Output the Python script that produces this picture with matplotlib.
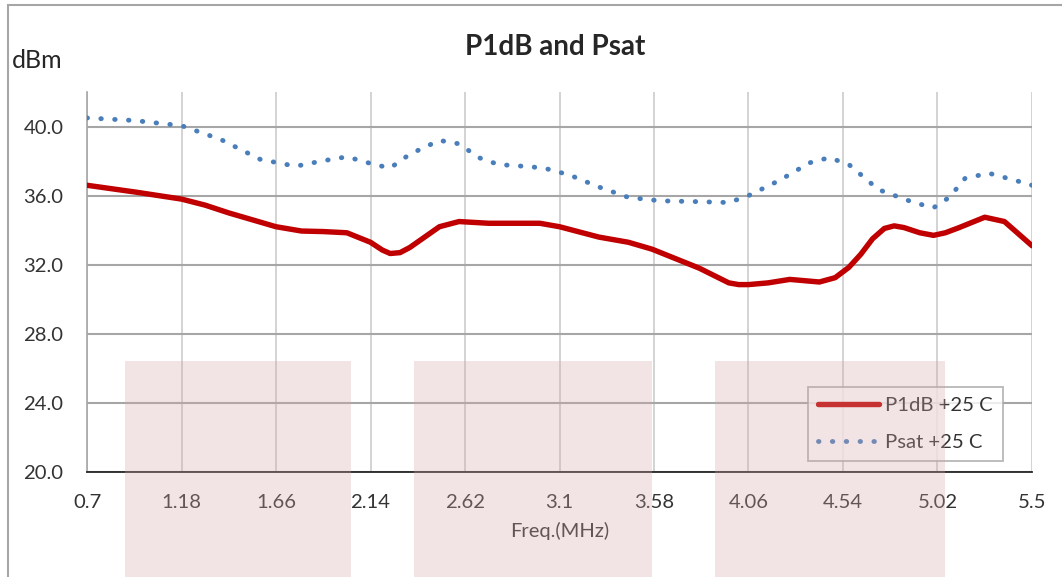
import numpy as np
import matplotlib.pyplot as plt
from matplotlib.patches import Rectangle

plt.rcParams['font.family'] = ['Lato', 'DejaVu Sans']

p1db_freq = [0.70, 0.95, 1.18, 1.30, 1.42, 1.54, 1.66, 1.79, 1.90, 2.02,
             2.14, 2.20, 2.24, 2.29, 2.34, 2.39, 2.49, 2.59, 2.74, 3.00,
             3.10, 3.30, 3.45, 3.57, 3.81, 3.96, 4.01, 4.06, 4.16, 4.27,
             4.42, 4.50, 4.57, 4.63, 4.69, 4.75, 4.80, 4.85, 4.93, 5.00,
             5.06, 5.13, 5.26, 5.36, 5.45, 5.50]
p1db_val = [36.6, 36.2, 35.8, 35.45, 35.0, 34.6, 34.2, 33.95, 33.92, 33.85,
            33.3, 32.85, 32.65, 32.7, 33.0, 33.4, 34.2, 34.5, 34.4, 34.4,
            34.2, 33.6, 33.3, 32.9, 31.8, 30.95, 30.85, 30.85, 30.95, 31.15,
            31.0, 31.25, 31.85, 32.6, 33.5, 34.1, 34.25, 34.15, 33.85, 33.7,
            33.85, 34.15, 34.75, 34.5, 33.6, 33.1]

psat_freq = [0.70, 0.94, 1.18, 1.38, 1.58, 1.76, 1.89, 2.02, 2.16, 2.24,
             2.34, 2.49, 2.59, 2.69, 2.79, 2.92, 3.02, 3.15, 3.30, 3.45,
             3.61, 3.81, 3.96, 4.06, 4.22, 4.37, 4.47, 4.57, 4.72, 4.90,
             5.00, 5.08, 5.16, 5.28, 5.41, 5.50]
psat_val = [40.5, 40.35, 40.05, 39.25, 38.1, 37.7, 38.0, 38.25, 37.8, 37.6,
            38.4, 39.2, 39.0, 38.2, 37.8, 37.7, 37.6, 37.2, 36.5, 35.9,
            35.7, 35.65, 35.6, 36.0, 36.9, 37.9, 38.2, 37.8, 36.35, 35.6,
            35.3, 35.9, 37.0, 37.3, 36.9, 36.6]

x_ticks = [0.7, 1.18, 1.66, 2.14, 2.62, 3.1, 3.58, 4.06, 4.54, 5.02, 5.5]
x_labels = ['0.7', '1.18', '1.66', '2.14', '2.62', '3.1', '3.58', '4.06', '4.54', '5.02', '5.5']
y_ticks = [20, 24, 28, 32, 36, 40]

W, H = 1062, 577
fig = plt.figure(figsize=(W / 100, H / 100), dpi=100)
ax = fig.add_axes([87 / W, 1 - 472 / H, 945 / W, 380 / H])

ax.plot(p1db_freq, p1db_val, color='#c00000', lw=3.9, solid_capstyle='round',
        solid_joinstyle='round', label='P1dB +25 C', zorder=3)
ax.plot(psat_freq, psat_val, color='#4a7ebb', lw=3.5, linestyle=(0, (0.1, 2.75)),
        dash_capstyle='round', label='Psat +25 C', zorder=3)

ax.set_xlim(0.7, 5.5)
ax.set_ylim(20, 42)
ax.set_xticks(x_ticks)
ax.set_xticklabels(x_labels)
ax.set_yticks(y_ticks)
ax.set_yticklabels([f'{v:.1f}' for v in y_ticks])
ax.tick_params(length=0, labelsize=14.6, labelcolor='#333333')
ax.tick_params(axis='x', pad=16)
ax.tick_params(axis='y', pad=17)

ax.xaxis.grid(True, color='#cccccc', lw=1.2)
ax.yaxis.grid(True, color='#a6a6a6', lw=1.5)
ax.set_axisbelow(True)
for s in ['top', 'right']:
    ax.spines[s].set_visible(False)
ax.spines['left'].set_color('#a6a6a6')
ax.spines['left'].set_linewidth(1.2)
ax.spines['bottom'].set_color('#262626')
ax.spines['bottom'].set_linewidth(1.3)

ax.set_xlabel('Freq.(MHz)', fontsize=14.5, color='#333333', labelpad=8)

leg = ax.legend(loc='lower right', bbox_to_anchor=(0.969, 0.029), fontsize=14.6,
                frameon=True, fancybox=False, handlelength=3.0, handletextpad=0.3,
                labelspacing=0.95, borderpad=0.5, borderaxespad=0)
leg.get_frame().set_edgecolor('#a6a6a6')
leg.get_frame().set_linewidth(1.3)
for t in leg.get_texts():
    t.set_color('#333333')

fig.text(555 / W, 1 - 47 / H, 'P1dB and Psat', fontsize=20, fontweight='bold',
         color='#262626', ha='center', va='center')
fig.text(12 / W, 1 - 60 / H, 'dBm', fontsize=18, color='#262626', ha='left', va='center')

# outer chart frame
fig.add_artist(Rectangle((8 / W, -0.1), 1.1, 1.1 - 5 / H, transform=fig.transFigure,
                         fill=False, edgecolor='#a6a6a6', lw=1.5))

# pink overlay blocks
for x0, x1 in [(125, 351), (414, 652), (715, 945)]:
    fig.add_artist(Rectangle((x0 / W, 0), (x1 - x0) / W, (577 - 361) / H,
                             transform=fig.transFigure, facecolor=(0.83, 0.65, 0.65),
                             alpha=0.3, edgecolor='none', zorder=10))

fig.savefig('out.png', dpi=100)
